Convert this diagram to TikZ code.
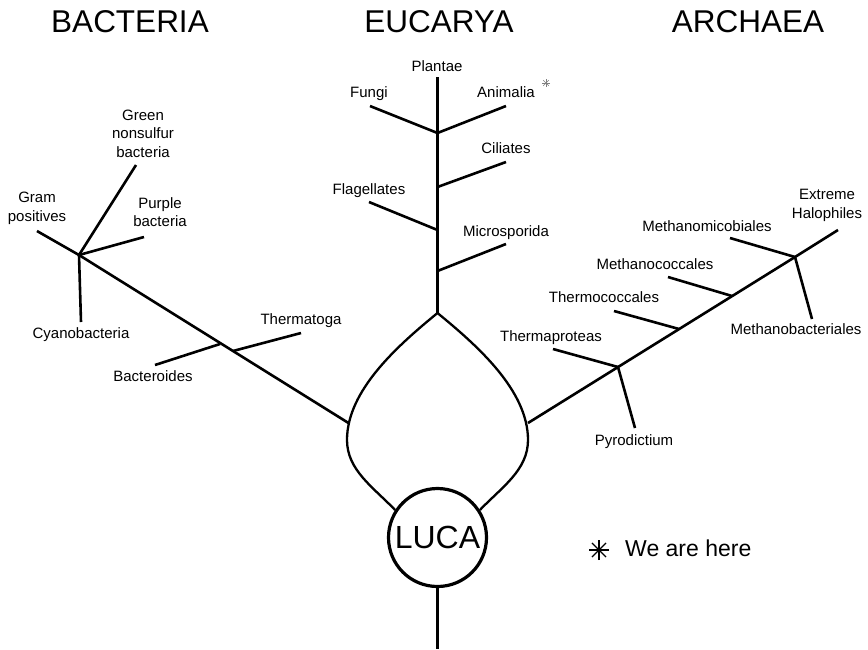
\documentclass[tikz,border=0pt]{standalone}
\usepackage{fontspec}
\setmainfont{Liberation Sans}
\begin{document}
\begin{tikzpicture}[x=1pt,y=-1pt,
  br/.style={line width=2.6pt},
  loopline/.style={line width=2.3pt},
  lbl/.style={font=\fontsize{15}{18.5}\selectfont, inner sep=0pt, anchor=base},
  mlbl/.style={font=\fontsize{15}{18.5}\selectfont, inner sep=0pt, align=center, anchor=north},
  hdr/.style={font=\fontsize{31.5}{36}\selectfont, inner sep=0pt, anchor=base}]
\useasboundingbox (0,0) rectangle (868,649);

% headers
\node[hdr] (hbac) at (130,32) {BACTERIA};
\node[hdr] (heuc) at (439,32) {EUCARYA};
\node[hdr] (harc) at (748,32) {ARCHAEA};

% LUCA
\node[circle, draw, line width=3.2pt, fill=white, minimum size=98pt, inner sep=0pt,
      font=\fontsize{32}{36}\selectfont] (luca) at (437.5,537.5) {LUCA};
\coordinate (bottom) at (437.5,649);
\draw[br] (luca.south) -- (bottom);

% loop
\coordinate (apex) at (437.5,313);
\coordinate (lw) at (347,440);
\coordinate (rw) at (528,440);
\draw[loopline] (apex) .. controls (398.5,345) and (347,390) .. (lw)
  .. controls (347,470) and (373,487) .. (luca.147);
\draw[loopline] (apex) .. controls (476.5,345) and (528,390) .. (rw)
  .. controls (528,470) and (502,487) .. (luca.33);

% ---------- Bacteria ----------
\coordinate (bj) at (79,255);
\coordinate (lj) at (348.5,423);
\coordinate (gp) at (37,231);
\coordinate (gn) at (136,165);
\coordinate (pb) at (144,237);
\coordinate (cy) at (81,322);
\coordinate (bt1) at (155,365);
\coordinate (bt2) at (220,344);
\coordinate (th1) at (233,351);
\coordinate (th2) at (301,333);
\draw[br] (gp) -- (bj) -- (lj);
\draw[br] (bj) -- (gn);
\draw[br] (bj) -- (pb);
\draw[br] (bj) -- (cy);
\draw[br] (bt1) -- (bt2);
\draw[br] (th1) -- (th2);

\node[mlbl] (lgn) at (143,109.5) {Green\\nonsulfur\\bacteria};
\node[mlbl] (lgp) at (37,192) {Gram\\positives};
\node[mlbl] (lpb) at (160,197) {Purple\\bacteria};
\node[lbl] (lcy) at (81,338) {Cyanobacteria};
\node[lbl] (lth) at (301,324) {Thermatoga};
\node[lbl] (lbt) at (153,381) {Bacteroides};

% ---------- Eucarya ----------
\coordinate (etop) at (437.5,77);
\coordinate (fa) at (437.5,133);
\coordinate (fu) at (370,106);
\coordinate (an) at (506,106);
\coordinate (ci1) at (437.5,187);
\coordinate (ci2) at (506,162);
\coordinate (fl1) at (369,202);
\coordinate (fl2) at (437.5,230);
\coordinate (mi1) at (437.5,271);
\coordinate (mi2) at (506,244);
\draw[br] (etop) -- (apex);
\draw[br] (fu) -- (fa) -- (an);
\draw[br] (ci1) -- (ci2);
\draw[br] (fl1) -- (fl2);
\draw[br] (mi1) -- (mi2);

\node[lbl] (lpl) at (437,71) {Plantae};
\node[lbl] (lfu) at (369,97) {Fungi};
\node[lbl] (lan) at (506,97) {Animalia};
\node[lbl] (lci) at (506,153) {Ciliates};
\node[lbl] (lfl) at (369,194) {Flagellates};
\node[lbl] (lmi) at (506,236) {Microsporida};

% small asterisk
\coordinate (sast) at (546,83);
\foreach \a in {0,45,90,135}
  \draw[line width=0.6pt, gray] (sast) ++(\a:4) -- ++(\a+180:8);

% ---------- Archaea ----------
\coordinate (rj) at (528,423);
\coordinate (aj) at (795,257);
\coordinate (eh) at (838,230);
\coordinate (mb) at (812,319);
\coordinate (mm) at (730,238);
\coordinate (mc1) at (668,277);
\coordinate (mc2) at (732,296);
\coordinate (tc1) at (614,311);
\coordinate (tc2) at (679,329);
\coordinate (tp1) at (553,349);
\coordinate (tp2) at (618,367);
\coordinate (py) at (635,428);
\draw[br] (rj) -- (aj) -- (eh);
\draw[br] (aj) -- (mb);
\draw[br] (mm) -- (aj);
\draw[br] (mc1) -- (mc2);
\draw[br] (tc1) -- (tc2);
\draw[br] (tp1) -- (tp2) -- (py);

\node[mlbl] (leh) at (827,189) {Extreme\\Halophiles};
\node[lbl] (lmm) at (707,231) {Methanomicobiales};
\node[lbl] (lmc) at (655,269) {Methanococcales};
\node[lbl] (ltc) at (604,302) {Thermococcales};
\node[lbl] (ltp) at (551,341) {Thermaproteas};
\node[lbl] (lmb) at (796,334) {Methanobacteriales};
\node[lbl] (lpy) at (634,445) {Pyrodictium};

% legend
\coordinate (bast) at (599,550);
\foreach \a in {0,45,90,135}
  \draw[line width=1.1pt] (bast) ++(\a:10) -- ++(\a+180:20);
\node[font=\fontsize{23}{27}\selectfont, inner sep=0pt, anchor=base west] (here) at (625,556) {We are here};
\end{tikzpicture}
\end{document}
